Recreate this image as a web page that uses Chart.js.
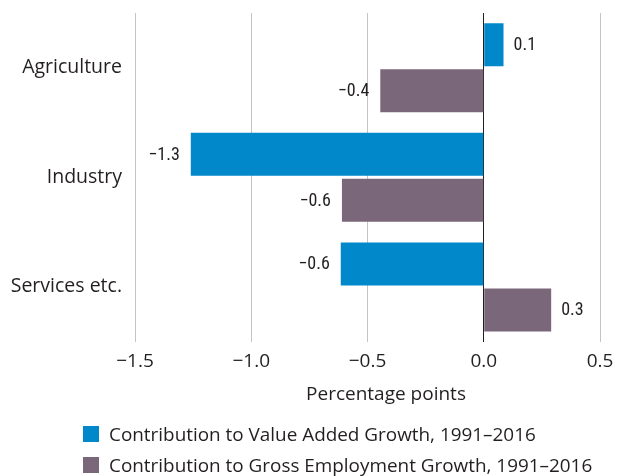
<!DOCTYPE html>
<html>
<head>
<meta charset="utf-8">
<script src="https://cdn.jsdelivr.net/npm/chart.js@4"></script>
<style>
  html, body { margin: 0; padding: 0; background: #fff; }
  #wrap { position: relative; width: 623px; height: 476px; font-family: 'Open Sans', 'Noto Sans', sans-serif; color: #231f20; }
  #c { position: absolute; left: 0; top: 0; }
  #xtitle { position: absolute; top: 380px; left: 286px; width: 200px; text-align: center; font-size: 19px; line-height: 26px; }
  .leg { position: absolute; left: 83px; font-size: 18.9px; line-height: 24px; white-space: nowrap; }
  .leg i { position: absolute; left: 0; top: 4px; width: 16px; height: 16px; }
  .leg span { position: absolute; left: 26px; top: 0; }
</style>
</head>
<body>
<div id="wrap">
  <canvas id="c" width="623" height="476"></canvas>
  <div id="xtitle">Percentage points</div>
  <div class="leg" style="top:422px"><i style="background:#0088cb"></i><span>Contribution to Value Added Growth, 1991–2016</span></div>
  <div class="leg" style="top:453px"><i style="background:#7a677a"></i><span>Contribution to Gross Employment Growth, 1991–2016</span></div>
</div>
<script>
const categories = ['Agriculture', 'Industry', 'Services etc.'];
const seriesNames = ['Contribution to Value Added Growth, 1991–2016', 'Contribution to Gross Employment Growth, 1991–2016'];
const valueAdded = [0.085, -1.26, -0.615];
const employment = [-0.445, -0.61, 0.29];
const valueAddedLabels = ['0.1', '−1.3', '−0.6'];
const employmentLabels = ['−0.4', '−0.6', '0.3'];
const tickValues = [-1.5, -1.0, -0.5, 0.0, 0.5];
const tickLabels = ['−1.5', '−1.0', '−0.5', '0.0', '0.5'];

const LABEL_FONT = "normal 400 18px 'Roboto Condensed', 'DejaVu Sans Condensed', sans-serif";

const barLabelPlugin = {
  id: 'barLabels',
  afterDatasetsDraw(chart) {
    const ctx = chart.ctx;
    ctx.save();
    ctx.font = LABEL_FONT;
    ctx.fillStyle = '#231f20';
    ctx.textBaseline = 'middle';
    chart.data.datasets.forEach((ds, di) => {
      const meta = chart.getDatasetMeta(di);
      meta.data.forEach((bar, i) => {
        const v = ds.data[i];
        const txt = ds.valueLabels[i];
        if (v >= 0) { ctx.textAlign = 'left'; ctx.fillText(txt, bar.x + 10, bar.y + 1); }
        else { ctx.textAlign = 'right'; ctx.fillText(txt, bar.x - 11, bar.y + 1); }
      });
    });
    ctx.restore();
  }
};

new Chart(document.getElementById('c'), {
  type: 'bar',
  data: {
    labels: categories,
    datasets: [
      { label: seriesNames[0], data: valueAdded, valueLabels: valueAddedLabels, backgroundColor: '#0088cb', categoryPercentage: 0.84, barPercentage: 0.935 },
      { label: seriesNames[1], data: employment, valueLabels: employmentLabels, backgroundColor: '#7a677a', categoryPercentage: 0.84, barPercentage: 0.935 }
    ]
  },
  options: {
    indexAxis: 'y',
    responsive: false,
    animation: false,
    layout: { padding: { top: 13, right: 23, left: 0, bottom: 0 } },
    plugins: { legend: { display: false }, tooltip: { enabled: false } },
    scales: {
      x: {
        min: -1.5, max: 0.5,
        afterBuildTicks(scale) { scale.ticks = tickValues.map(v => ({ value: v })); },
        afterFit(scale) { scale.height = 134.3; },
        border: { display: false },
        grid: {
          drawTicks: false,
          color: ctx => (ctx.tick && ctx.tick.value === 0) ? '#231f20' : '#c4c4c4',
          lineWidth: 1
        },
        ticks: {
          padding: 8,
          color: '#231f20',
          font: { family: "'Open Sans', 'Noto Sans', sans-serif", size: 19 },
          callback: (val) => { const k = tickValues.findIndex(t => Math.abs(t - val) < 1e-9); return k >= 0 ? tickLabels[k] : ''; }
        }
      },
      y: {
        afterFit(scale) { scale.width = 135; scale.paddingTop = 0; scale.paddingBottom = 0; },
        border: { display: false },
        grid: { display: false, drawTicks: false },
        ticks: {
          padding: 13,
          color: '#231f20',
          font: { family: "'Open Sans', 'Noto Sans', sans-serif", size: 19.5 }
        }
      }
    }
  },
  plugins: [barLabelPlugin]
});
</script>
</body>
</html>
